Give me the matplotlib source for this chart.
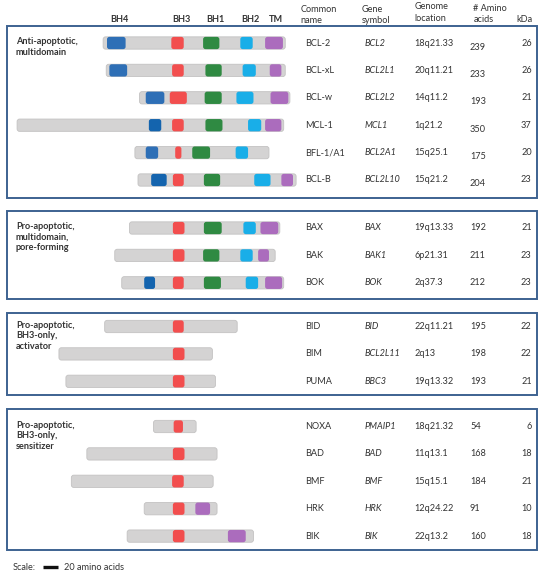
import matplotlib
matplotlib.use("Agg")
import matplotlib.pyplot as plt
from matplotlib.patches import FancyBboxPatch, Rectangle

plt.rcParams['font.family'] = ['Lato', 'DejaVu Sans']

# ---------------- data ----------------
groups = [
    "Anti-apoptotic,\nmultidomain",
    "Pro-apoptotic,\nmultidomain,\npore-forming",
    "Pro-apoptotic,\nBH3-only,\nactivator",
    "Pro-apoptotic,\nBH3-only,\nsensitizer",
]
group_members = [6, 3, 3, 5]

common_names = ["BCL-2", "BCL-xL", "BCL-w", "MCL-1", "BFL-1/A1", "BCL-B",
                "BAX", "BAK", "BOK",
                "BID", "BIM", "PUMA",
                "NOXA", "BAD", "BMF", "HRK", "BIK"]
gene_symbols = ["BCL2", "BCL2L1", "BCL2L2", "MCL1", "BCL2A1", "BCL2L10",
                "BAX", "BAK1", "BOK",
                "BID", "BCL2L11", "BBC3",
                "PMAIP1", "BAD", "BMF", "HRK", "BIK"]
genome_locations = ["18q21.33", "20q11.21", "14q11.2", "1q21.2", "15q25.1", "15q21.2",
                    "19q13.33", "6p21.31", "2q37.3",
                    "22q11.21", "2q13", "19q13.32",
                    "18q21.32", "11q13.1", "15q15.1", "12q24.22", "22q13.2"]
amino_acids = [239, 233, 193, 350, 175, 204,
               192, 211, 212,
               195, 198, 193,
               54, 168, 184, 91, 160]
kda = [26, 26, 21, 37, 20, 23,
       21, 23, 23,
       22, 22, 21,
       6, 18, 21, 10, 18]

# protein extent in amino acids, relative to the centre of the BH3 domain
bar_start = [-97, -93, -50, -208, -56, -52,
             -63, -82, -73,
             -95, -154, -145,
             -32, -118, -138, -44, -66]
bar_end = [138, 138, 144, 136, 117, 152,
           131, 125, 136,
           76, 44, 48,
           23, 50, 45, 50, 97]

# domains (name, start, end) in amino acids relative to the BH3 centre
domains = [
    [("BH4", -92, -68), ("BH3", -9, 7), ("BH1", 32, 53), ("BH2", 80, 96), ("TM", 112, 135)],
    [("BH4", -89, -66), ("BH3", -8, 7), ("BH1", 35, 56), ("BH2", 83, 100), ("TM", 118, 133)],
    [("BH4", -42, -18), ("BH3", -11, 11), ("BH1", 34, 56), ("BH2", 75, 97), ("TM", 119, 142)],
    [("BH4d", -38, -22), ("BH3", -8, 7), ("BH1", 35, 57), ("BH2", 90, 107), ("TM", 112, 133)],
    [("BH4", -42, -26), ("BH3", -4, 4), ("BH1", 18, 41), ("BH2", 74, 90)],
    [("BH4d", -35, -15), ("BH3", -7, 7), ("BH1", 33, 54), ("BH2", 98, 119), ("TM", 133, 148)],
    [("BH3", -7, 8), ("BH1", 33, 56), ("BH2", 84, 100), ("TM", 106, 129)],
    [("BH3", -7, 8), ("BH1", 32, 53), ("BH2", 80, 96), ("TM", 103, 117)],
    [("BH4d", -44, -30), ("BH3", -7, 7), ("BH1", 33, 55), ("BH2", 87, 103), ("TM", 112, 134)],
    [("BH3", -7, 7)],
    [("BH3", -7, 8)],
    [("BH3", -7, 8)],
    [("BH3", -6, 6)],
    [("BH3", -7, 8)],
    [("BH3", -8, 7)],
    [("BH3", -7, 8), ("TM", 22, 41)],
    [("BH3", -7, 8), ("TM", 64, 87)],
]

domain_headers = ["BH4", "BH3", "BH1", "BH2", "TM"]
column_headers = ["Common\nname", "Gene\nsymbol", "Genome\nlocation", "# Amino\nacids", "kDa"]
scale_aa = 20

# ---------------- styles / layout ----------------
colors = {"BH4": "#2e6fb6", "BH4d": "#1464ae", "BH3": "#f24e4e", "BH1": "#2f8a42",
          "BH2": "#19aee8", "TM": "#ab6cbd"}
grey = "#d4d3d3"
grey_edge = "#c3c2c2"
box_col = "#3d6290"
txt_col = "#333333"

W, H = 550, 575
PX_PER_AA = 0.775
ALIGN_PX = 178.3
BAR_H = 12.3

fig = plt.figure(figsize=(5.5, 5.75), dpi=100)
ax = fig.add_axes([0, 0, 1, 1])       # pixel coordinates for text and frames
ax.set_xlim(0, W)
ax.set_ylim(H, 0)
ax.axis("off")
axb = fig.add_axes([0, 0, 1, 1])      # amino-acid coordinates for the proteins
axb.set_xlim(-ALIGN_PX / PX_PER_AA, (W - ALIGN_PX) / PX_PER_AA)
axb.set_ylim(H, 0)
axb.axis("off")
axb.patch.set_alpha(0)

panel_first_row = [43, 228, 326.5, 426.5]
panel_top_pad = [17, 17, 14, 17.5]
panel_bot_pad = [18, 16.5, 14, 14]
row_pitch = 27.4

fs = 6.6

def rbox(x0, x1, y, fc, ec, z, lw=0.6):
    p = FancyBboxPatch((x0, y - BAR_H / 2), x1 - x0, BAR_H,
                       boxstyle="round,pad=0,rounding_size=3.2",
                       mutation_aspect=PX_PER_AA,
                       fc=fc, ec=ec, lw=lw, zorder=z)
    axb.add_patch(p)

# header row
hdr_x = [119.3, 181, 215, 250, 276]
for name, x in zip(domain_headers, hdr_x):
    ax.text(x, 19.5, name, ha="center", va="center", fontsize=fs,
            fontweight="bold", color=txt_col)
col_x = [300.7, 361.7, 414.3, 473.3, 516]
col_y = [15, 15, 12.5, 14, 19.3]
for name, x, y in zip(column_headers, col_x, col_y):
    ax.text(x, y, name, ha="left", va="center", fontsize=fs, color=txt_col,
            linespacing=1.3)

idx = 0
for g, (gname, n) in enumerate(zip(groups, group_members)):
    y0 = panel_first_row[g]
    ys = [y0 + row_pitch * k for k in range(n)]
    top = y0 - panel_top_pad[g]
    bot = ys[-1] + panel_bot_pad[g]
    ax.add_patch(Rectangle((7, top), 530, bot - top, fill=False, ec=box_col,
                           lw=1.4, zorder=5))
    ax.text(16, y0 - 6, gname, ha="left", va="top", fontsize=fs,
            fontweight="bold", color=txt_col, linespacing=1.25)
    for y in ys:
        i = idx
        rbox(bar_start[i], bar_end[i], y, grey, grey_edge, 2)
        for dname, d0, d1 in domains[i]:
            rbox(d0, d1, y, colors[dname], "none", 3, lw=0)
        aa_dy = 4 if g == 0 else 0
        ax.text(305, y, common_names[i], ha="left", va="center", fontsize=fs, color=txt_col)
        ax.text(365, y, gene_symbols[i], ha="left", va="center", fontsize=fs,
                style="italic", color=txt_col)
        ax.text(414.3, y, genome_locations[i], ha="left", va="center", fontsize=fs, color=txt_col)
        ax.text(470, y + aa_dy, str(amino_acids[i]), ha="left", va="center", fontsize=fs, color=txt_col)
        ax.text(531.7, y, str(kda[i]), ha="right", va="center", fontsize=fs, color=txt_col)
        idx += 1

# scale bar
sx0 = (42.7 - ALIGN_PX) / PX_PER_AA
axb.plot([sx0, sx0 + scale_aa], [567, 567], color="#111111", lw=2.4,
         solid_capstyle="butt")
ax.text(12.7, 567, "Scale:", ha="left", va="center", fontsize=fs, color=txt_col)
ax.text(64, 567, f"{scale_aa} amino acids", ha="left", va="center", fontsize=fs, color=txt_col)

fig.savefig("out.png", dpi=100)
